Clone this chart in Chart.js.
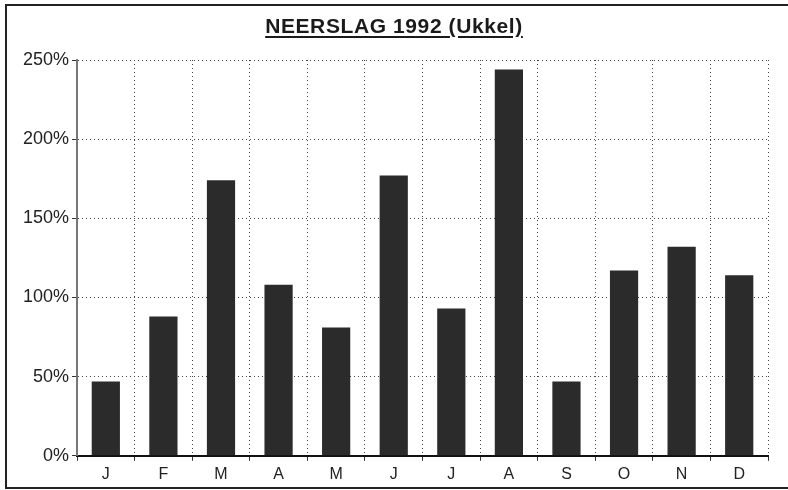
<!DOCTYPE html>
<html>
<head>
<meta charset="utf-8">
<script src="https://cdn.jsdelivr.net/npm/chart.js@4"></script>
<style>
  body { margin: 0; background: #fff; }
  #wrap { position: relative; width: 788px; height: 490px; overflow: hidden; }
  #frame {
    position: absolute; left: 5px; top: 4px; width: 800px; height: 481px;
    border-left: 2px solid #222; border-top: 2px solid #222; border-bottom: 2px solid #222;
  }
  #title {
    position: absolute; left: 0; top: 14px; width: 788px; text-align: center;
    font: bold 21px "Liberation Sans", Arial, sans-serif; color: #1a1a1a;
    letter-spacing: 0.6px;
    text-decoration: underline; text-underline-offset: 3px;
  }
  canvas { position: absolute; left: 0; top: 0; }
</style>
</head>
<body>
<div id="wrap">
  <div id="frame"></div>
  <canvas id="rainChart" width="788" height="490"></canvas>
  <div id="title">NEERSLAG 1992 (Ukkel)</div>
</div>
<script>
// === Data neerslag per maand (% van normaal) ===
const maanden = ["J", "F", "M", "A", "M", "J", "J", "A", "S", "O", "N", "D"];
const neerslag = [47, 88, 174, 108, 81, 177, 93, 244, 47, 117, 132, 114];
const yTicks = [0, 50, 100, 150, 200, 250];

const ctx = document.getElementById("rainChart");
new Chart(ctx, {
  type: "bar",
  data: {
    labels: maanden,
    datasets: [{
      data: neerslag,
      backgroundColor: "#2b2b2b",
      borderWidth: 0,
      barPercentage: 0.5,
      categoryPercentage: 0.98
    }]
  },
  options: {
    responsive: false,
    animation: false,
    layout: { padding: { left: 20, right: 20, top: 60, bottom: 2 } },
    plugins: { legend: { display: false }, tooltip: { enabled: false } },
    scales: {
      x: {
        grid: {
          color: "#444",
          lineWidth: 1,
          tickLength: 5,
          tickBorderDash: [],
          tickColor: "#333"
        },
        border: { display: true, color: "#111", width: 2, dash: [1, 3] },
        ticks: {
          color: "#222",
          padding: 4,
          font: { family: "Liberation Sans, Arial", size: 16 }
        }
      },
      y: {
        min: 0,
        max: 250,
        afterBuildTicks: (axis) => { axis.ticks = yTicks.map(v => ({ value: v })); },
        grid: {
          color: "#444",
          lineWidth: 1,
          tickLength: 5,
          tickBorderDash: [],
          tickColor: "#333"
        },
        border: { display: true, color: "#777", width: 2, dash: [1, 3] },
        ticks: {
          color: "#222",
          padding: 3,
          font: { family: "Liberation Sans, Arial", size: 18 },
          callback: (v) => v + "%"
        }
      }
    }
  }
});
</script>
</body>
</html>
